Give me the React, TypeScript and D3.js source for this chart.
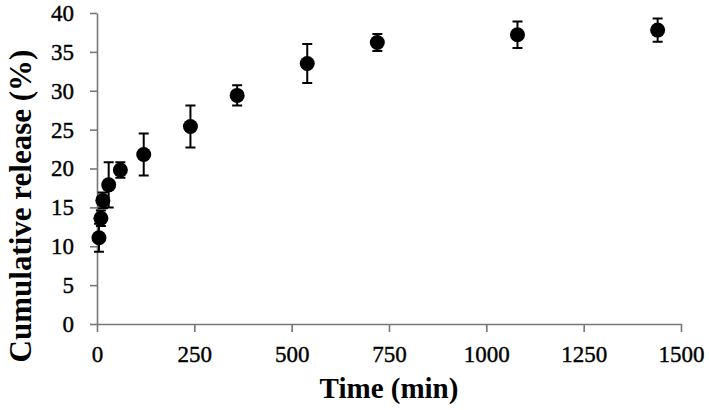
import React, { useEffect, useRef } from 'react';
import * as d3 from 'd3';

const times = [5, 10, 15, 30, 60, 120, 240, 360, 540, 720, 1080, 1440];
const release = [11.1, 13.6, 15.9, 17.9, 19.8, 21.8, 25.4, 29.4, 33.5, 36.2, 37.2, 37.8];
const errors = [1.8, 1.0, 1.0, 2.9, 1.0, 2.7, 2.7, 1.3, 2.5, 1.1, 1.7, 1.5];
const xTicks = [0, 250, 500, 750, 1000, 1250, 1500];
const yTicks = [0, 5, 10, 15, 20, 25, 30, 35, 40];

const width = 709,
  height = 410;
const margins = { top: 13, right: 28, bottom: 86, left: 97 };

export default function App() {
  const ref = useRef<SVGGElement>(null);

  useEffect(() => {
    const g = d3.select(ref.current);
    g.selectAll('*').remove();

    const xScale = d3
      .scaleLinear()
      .domain([0, 1500])
      .range([margins.left, width - margins.right]);
    const yScale = d3
      .scaleLinear()
      .domain([0, 40])
      .range([height - margins.bottom, margins.top]);

    const font = '"Liberation Serif", "Times New Roman", serif';

    const xAxis = g
      .append('g')
      .attr('transform', `translate(0,${yScale(0)})`)
      .call(
        d3
          .axisBottom(xScale)
          .tickValues(xTicks)
          .tickFormat(d3.format('d'))
          .tickSize(8)
          .tickSizeOuter(0)
          .tickPadding(14)
      );
    const yAxis = g
      .append('g')
      .attr('transform', `translate(${xScale(0)},0)`)
      .call(
        d3
          .axisLeft(yScale)
          .tickValues(yTicks)
          .tickFormat(d3.format('d'))
          .tickSize(7)
          .tickSizeOuter(0)
          .tickPadding(16)
      );

    [xAxis, yAxis].forEach(ax => {
      ax.select('.domain').attr('stroke', '#777').attr('stroke-width', 1.6);
      ax.selectAll('.tick line').attr('stroke', '#777').attr('stroke-width', 1.6);
      ax.selectAll('.tick text')
        .attr('fill', '#000')
        .attr('stroke', '#000')
        .attr('stroke-width', 0.4)
        .style('font-family', font)
        .style('font-size', '23px');
    });

    // error bars
    const capW = 5;
    g.append('g')
      .selectAll('path')
      .data(times)
      .enter()
      .append('path')
      .attr('d', (d, i) => {
        const x = xScale(d);
        const y0 = yScale(release[i] - errors[i]);
        const y1 = yScale(release[i] + errors[i]);
        return `M${x},${y0}V${y1}M${x - capW},${y0}H${x + capW}M${x - capW},${y1}H${x + capW}`;
      })
      .attr('stroke', '#000')
      .attr('stroke-width', 2)
      .attr('fill', 'none');

    g.append('g')
      .selectAll('circle')
      .data(times)
      .enter()
      .append('circle')
      .attr('cx', d => xScale(d))
      .attr('cy', (d, i) => yScale(release[i]))
      .attr('r', 7.5)
      .attr('fill', '#000');

    g.append('text')
      .attr('x', (xScale(0) + xScale(1500)) / 2)
      .attr('y', 398)
      .attr('text-anchor', 'middle')
      .style('font-family', font)
      .style('font-weight', 'bold')
      .style('font-size', '29px')
      .text('Time (min)');

    g.append('text')
      .attr('transform', `translate(31,206) rotate(-90)`)
      .attr('text-anchor', 'middle')
      .style('font-family', font)
      .style('font-weight', 'bold')
      .style('font-size', '31px')
      .text('Cumulative release (%)');
  }, []);

  return (
    <svg width={width} height={height} style={{ position: 'absolute', left: 0, top: 0, background: '#fff' }}>
      <g ref={ref} />
    </svg>
  );
}
